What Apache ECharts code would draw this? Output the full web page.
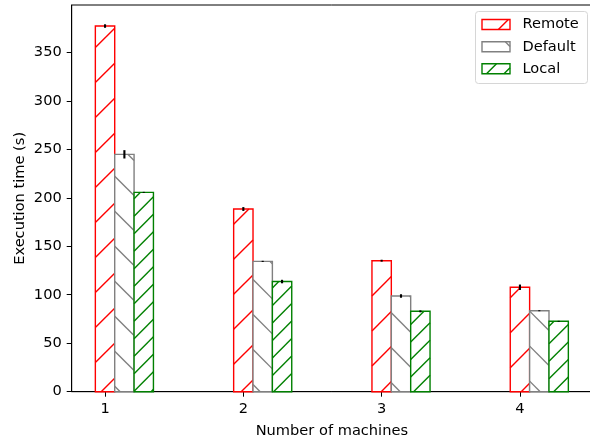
<!DOCTYPE html>
<html>
<head>
<meta charset="utf-8">
<script src="https://cdn.jsdelivr.net/npm/echarts@6/dist/echarts.min.js"></script>
<style>html,body{margin:0;padding:0;background:#fff}#c{width:590px;height:438px}</style>
</head>
<body>
<div id="c"></div>
<script>
// ---- data ----
const machines = [1, 2, 3, 4];
const seriesNames = ['Remote', 'Default', 'Local'];
const remoteTime = [377.1, 188.4, 135.1, 107.7];
const remoteErr = [1.8, 2.0, 1.0, 2.8];
const defaultTime = [244.8, 134.4, 98.7, 83.5];
const defaultErr = [4.3, 0.6, 1.8, 0.5];
const localTime = [205.6, 113.6, 82.9, 72.6];
const localErr = [0.5, 1.8, 1.0, 0.5];
const yTicks = [0, 50, 100, 150, 200, 250, 300, 350];

// ---- style ----
const BAR_W = 0.14;
const FS = 14.6;
const styles = [
  {color: '#ff0000', hatch: 'ne', s: 35, phase: 2.9},
  {color: '#808080', hatch: 'nw', s: 35, phase: 26.5},
  {color: '#008000', hatch: 'ne', s: 17.5, phase: 0.3}
];

function hatchSegs(x0, y0, x1, y1, type, s, phase) {
  const segs = [];
  if (type === 'ne') { // lines x + y = c
    let c = Math.ceil((x0 + y0 - phase) / s) * s + phase;
    for (; c <= x1 + y1; c += s) {
      const xa = Math.max(x0, c - y1), xb = Math.min(x1, c - y0);
      if (xb > xa) segs.push([[xa, c - xa], [xb, c - xb]]);
    }
  } else { // lines y - x = c
    let c = Math.ceil((y0 - x1 - phase) / s) * s + phase;
    for (; c <= y1 - x0; c += s) {
      const xa = Math.max(x0, y0 - c), xb = Math.min(x1, y1 - c);
      if (xb > xa) segs.push([[xa, xa + c], [xb, xb + c]]);
    }
  }
  return segs;
}

function hatchedRect(x0, y0, x1, y1, st) {
  const children = [];
  children.push({type: 'rect', shape: {x: x0, y: y0, width: x1 - x0, height: y1 - y0},
    style: {fill: '#fff', stroke: null}});
  hatchSegs(x0, y0, x1, y1, st.hatch, st.s, st.phase).forEach(sg => {
    children.push({type: 'line', shape: {x1: sg[0][0], y1: sg[0][1], x2: sg[1][0], y2: sg[1][1]},
      style: {stroke: st.color, lineWidth: 1.4}});
  });
  children.push({type: 'rect', shape: {x: x0, y: y0, width: x1 - x0, height: y1 - y0},
    style: {fill: null, stroke: st.color, lineWidth: 1.4}});
  return children;
}

const allVals = [remoteTime, defaultTime, localTime];
const allErr = [remoteErr, defaultErr, localErr];

function makeSeries(k) {
  const st = styles[k];
  return {
    type: 'custom',
    name: seriesNames[k],
    clip: false,
    data: machines.map((m, i) => [m + k * BAR_W, allVals[k][i], allErr[k][i]]),
    renderItem: function (params, api) {
      const x = api.value(0), v = api.value(1), e = api.value(2);
      const p0 = api.coord([x - BAR_W / 2, 0]);
      const p1 = api.coord([x + BAR_W / 2, v]);
      const children = hatchedRect(p0[0], p1[1], p1[0], p0[1], st);
      const ea = api.coord([x, v - e]), eb = api.coord([x, v + e]);
      children.push({type: 'line', shape: {x1: ea[0], y1: ea[1], x2: eb[0], y2: eb[1]},
        style: {stroke: '#000', lineWidth: 2.1}});
      return {type: 'group', children: children};
    }
  };
}

// legend built as graphic
const legendChildren = [{type: 'rect', shape: {x: 475.5, y: 11.5, width: 112, height: 72, r: 3},
  style: {fill: '#fff', stroke: '#d6d6d6', lineWidth: 1}}];
const rowY = [24.5, 46.8, 68.8];
seriesNames.forEach((n, k) => {
  const y = rowY[k];
  hatchedRect(482, y - 5, 510, y + 5, styles[k]).forEach(c => legendChildren.push(c));
  legendChildren.push({type: 'text', style: {x: 522.5, y: y, text: n, fontSize: FS,
    fontFamily: 'DejaVu Sans', fill: '#000', verticalAlign: 'middle', textAlign: 'left'}});
});

const chart = echarts.init(document.getElementById('c'), null, {renderer: 'canvas'});
const textStyle = {fontFamily: 'DejaVu Sans', fontSize: FS, color: '#000'};
chart.setOption({
  animation: false,
  backgroundColor: '#fff',
  grid: {left: 71.7, top: 5, width: 520.3, height: 386.7, show: true, borderColor: '#000', borderWidth: 1,
    containLabel: false, outerBoundsMode: 'none'},
  xAxis: {
    type: 'value', min: 0.759, max: 4.521,
    name: 'Number of machines', nameLocation: 'middle', nameGap: 32, nameMoveOverlap: false,
    nameTextStyle: textStyle,
    axisLine: {show: true, lineStyle: {color: '#000', width: 1}},
    axisTick: {show: true, inside: false, length: 5, lineStyle: {color: '#000', width: 1}, customValues: machines},
    axisLabel: Object.assign({margin: 10, customValues: machines}, textStyle),
    splitLine: {show: false}
  },
  yAxis: {
    type: 'value', min: 0, max: 398.8,
    name: 'Execution time (s)', nameLocation: 'middle', nameGap: 44, nameRotate: 90, nameMoveOverlap: false,
    nameTextStyle: textStyle,
    axisLine: {show: true, lineStyle: {color: '#000', width: 1}},
    axisTick: {show: true, inside: false, length: 5, lineStyle: {color: '#000', width: 1}, customValues: yTicks},
    axisLabel: Object.assign({margin: 10, customValues: yTicks}, textStyle),
    splitLine: {show: false}
  },
  series: [makeSeries(0), makeSeries(1), makeSeries(2)],
  graphic: [{type: 'group', z: 100, children: legendChildren}]
});
</script>
</body>
</html>
